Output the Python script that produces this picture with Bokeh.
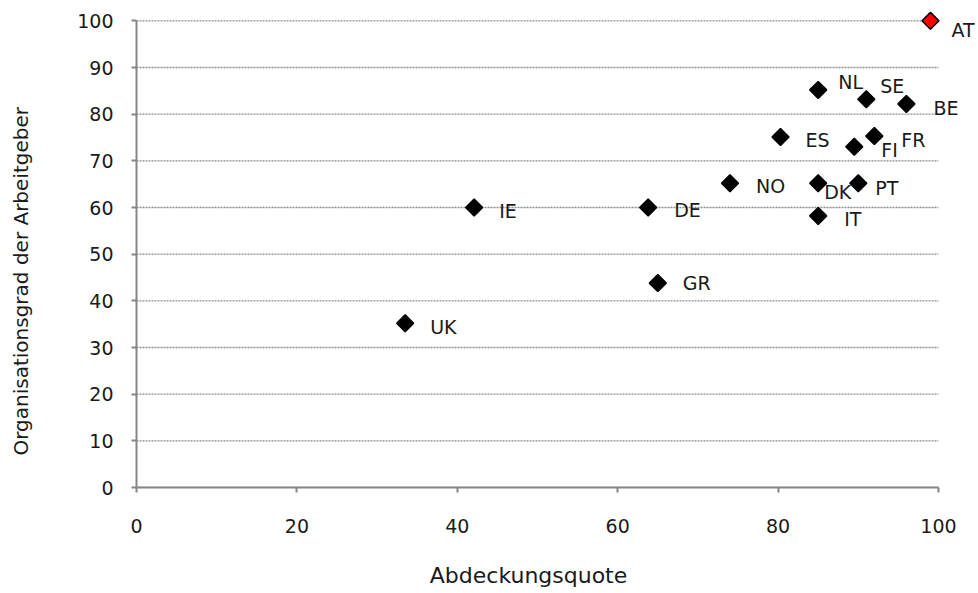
from bokeh.plotting import figure
from bokeh.models import ColumnDataSource, Range1d, FixedTicker, Label
from bokeh.embed import file_html
from bokeh.resources import INLINE

# ---- data ----
countries = ["AT", "NL", "SE", "BE", "ES", "FI", "FR", "NO", "DK", "PT", "IT", "DE", "IE", "GR", "UK"]
coverage = [99, 85, 91, 96, 80.3, 89.5, 92, 74, 85, 90, 85, 63.8, 42.1, 65, 33.5]
employer_density = [100, 85.2, 83.2, 82.2, 75.1, 73, 75.3, 65.2, 65.2, 65.2, 58.2, 60, 60, 43.8, 35.2]
x_ticks = [0, 20, 40, 60, 80, 100]
y_ticks = [0, 10, 20, 30, 40, 50, 60, 70, 80, 90, 100]
x_max = 100

# label placement (screen pixels, styling only)
label_dx = [21, 20, 14, 27, 25, 27, 27, 26, 6, 17, 26, 26, 25, 25, 25]
label_dy = [9, -8, -13, 4, 3, 3, 4, 3, 9, 5, 3, 2, 3, 0, 4]

FONT = "DejaVu Sans"
GRAY = "#868686"
TXT = "#1a1a1a"
NBSP = "\u00a0"

fill = ["#ff0000" if c == "AT" else "#000000" for c in countries]
src = ColumnDataSource(dict(x=coverage, y=employer_density, name=countries, fill=fill))
grid_src = ColumnDataSource(dict(x0=[0] * len(y_ticks), x1=[x_max] * len(y_ticks),
                                 y=y_ticks))

# frame extends a little past 100 so that labels near the right edge are not clipped
p = figure(width=976, height=592, output_backend="svg", toolbar_location=None,
           x_range=Range1d(0, 104.74), y_range=Range1d(0, 102),
           min_border_left=136, min_border_right=0, min_border_top=11, min_border_bottom=105)
p.outline_line_color = None
p.background_fill_color = "white"
p.border_fill_color = "white"

p.xgrid.grid_line_color = None
p.ygrid.grid_line_color = None

p.segment(x0="x0", x1="x1", y0="y", y1="y", source=grid_src,
          line_color="#8c8c8c", line_dash="2 1", line_width=1.3)

for ax, ticks in ((p.xaxis, x_ticks), (p.yaxis, y_ticks)):
    ax.ticker = FixedTicker(ticks=ticks)
    ax.axis_line_color = GRAY
    ax.axis_line_width = 2
    ax.major_tick_line_color = GRAY
    ax.major_tick_line_width = 2
    ax.major_tick_in = 0
    ax.major_tick_out = 5
    ax.minor_tick_line_color = None
    ax.major_label_text_font = FONT
    ax.major_label_text_font_size = "19px"
    ax.major_label_text_color = TXT
    ax.axis_label_text_font = FONT
    ax.axis_label_text_font_style = "normal"
    ax.axis_label_text_color = TXT

p.xaxis.bounds = (0, x_max)
p.yaxis.bounds = (0, 100)
p.xaxis.axis_label = "Abdeckungsquote" + NBSP * 8
p.xaxis.axis_label_text_font_size = "22px"
p.xaxis.major_label_standoff = 26
p.xaxis.axis_label_standoff = 27
p.yaxis.axis_label = "Organisationsgrad der Arbeitgeber" + NBSP * 10
p.yaxis.axis_label_text_font_size = "20px"
p.yaxis.major_label_standoff = 18
p.yaxis.axis_label_standoff = 41

p.scatter("x", "y", source=src, marker="square", size=12, angle=0.785398,
          fill_color="fill", line_color="black", line_width=1.5)

for name, xv, yv, dx, dy in zip(countries, coverage, employer_density, label_dx, label_dy):
    p.add_layout(Label(x=xv, y=yv, text=name, x_offset=dx, y_offset=-dy,
                       text_font=FONT, text_font_size="19px", text_color=TXT,
                       text_align="left", text_baseline="middle"))

open("out.html", "w").write(file_html(p, INLINE))
